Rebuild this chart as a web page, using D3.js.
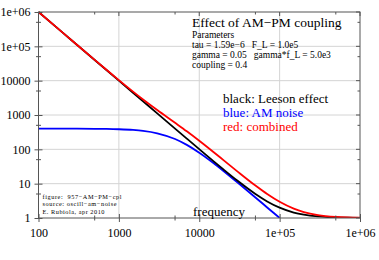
<!DOCTYPE html>
<html><head><meta charset="utf-8">
<script src="https://cdn.jsdelivr.net/npm/d3@7"></script>
<style>
html,body{margin:0;padding:0;background:#fff;}
svg text{font-family:"Liberation Serif","DejaVu Serif",serif;white-space:pre;}
</style></head>
<body><svg id="c" width="379" height="260"></svg>
<script>
// ---- data ----
const freq = [100, 200, 300, 500, 700, 1000, 1500, 2000, 3000, 5000, 7000, 10000, 15000, 20000, 30000, 50000, 70000, 100000, 150000, 200000, 300000, 500000, 700000, 1000000];
const leeson = [1000001, 250001, 111112, 40001, 20409, 10001, 4445, 2501, 1112, 401, 205.1, 101, 45.4, 26, 12.1, 5, 3.04, 2, 1.44, 1.25, 1.11, 1.04, 1.02, 1.01];
const amFreq = [100, 200, 300, 500, 700, 1000, 1500, 2000, 3000, 5000, 7000, 10000, 15000, 20000, 30000, 50000, 70000, 100000];
const amNoise = [399.8, 399.4, 398.6, 396, 393, 384.6, 367, 344.8, 294, 200, 135.1, 80, 40, 23.5, 10.8, 3.96, 2.03, 1.0];
const combined = [1000385, 250384, 111494, 40381, 20787, 10371, 4798, 2832, 1394, 593, 335, 177.8, 83.8, 48.6, 22.5, 8.8, 4.99, 2.96, 1.87, 1.49, 1.22, 1.08, 1.04, 1.02];
const xTicks = [100, 1000, 10000, 100000, 1000000];
const xTickLabels = ["100", "1000", "10000", "1e+05", "1e+06"];
const yTicks = [1, 10, 100, 1000, 10000, 100000, 1000000];
const yTickLabels = ["1", "10", "100", "1000", "10000", "1e+05", "1e+06"];
const xMinor = [500, 5000, 50000, 500000];
const yMinor = [5, 50, 500, 5000, 50000, 500000];
const titleText = "Effect of AM\u2212PM coupling";
const paramLines = ["Parameters", "tau = 1.59e\u22126   F_L = 1.0e5", "gamma = 0.05   gamma*f_L = 5.0e3", "coupling = 0.4"];
const legendLines = [["black: Leeson effect", "#000"], ["blue: AM noise", "#0000ff"], ["red: combined", "#ff0000"]];
const footLines = ["figure:  957\u2212AM\u2212PM\u2212cpl", "source: oscill\u2212am\u2212noise", "E. Rubiola, apr 2010"];

// ---- layout ----
const svg = d3.select("#c");
const L = 38.5, R = 360, T = 12, B = 218;
const x = d3.scaleLog().domain([100, 1e6]).range([L, R]);
const y = d3.scaleLog().domain([1, 1e6]).range([B, T]);

svg.append("rect").attr("width", 379).attr("height", 260).attr("fill", "#fff");

// grid
const g = svg.append("g");
g.selectAll("line.gx").data(xTicks.slice(1, -1)).join("line")
  .attr("x1", d => x(d)).attr("x2", d => x(d)).attr("y1", T).attr("y2", B)
  .attr("stroke", "#d4d4d4").attr("stroke-width", 1);
g.selectAll("line.gy").data(yTicks.slice(1, -1)).join("line")
  .attr("y1", d => y(d)).attr("y2", d => y(d)).attr("x1", L).attr("x2", R)
  .attr("stroke", "#d4d4d4").attr("stroke-width", 1);

// curves
const clip = svg.append("clipPath").attr("id", "pc").append("rect")
  .attr("x", L).attr("y", T - 1).attr("width", R - L + 1).attr("height", B - T + 1);
const line = d3.line().x(d => x(d[0])).y(d => y(d[1])).curve(d3.curveMonotoneX);
const pg = svg.append("g").attr("clip-path", "url(#pc)");
pg.append("path").datum(d3.zip(amFreq, amNoise)).attr("d", line)
  .attr("fill", "none").attr("stroke", "#0000ff").attr("stroke-width", 1.8);
pg.append("path").datum(d3.zip(freq, leeson)).attr("d", line)
  .attr("fill", "none").attr("stroke", "#000").attr("stroke-width", 1.8);
pg.append("path").datum(d3.zip(freq, combined)).attr("d", line)
  .attr("fill", "none").attr("stroke", "#ff0000").attr("stroke-width", 1.8);

// frame
const axc = "#555";
svg.append("rect").attr("x", L).attr("y", T).attr("width", R - L).attr("height", B - T)
  .attr("fill", "none").attr("stroke", axc).attr("stroke-width", 1);

// bottom axis
const bx = svg.append("g").attr("transform", `translate(0,${B})`)
  .call(d3.axisBottom(x).tickValues(xTicks).tickFormat((d, i) => xTickLabels[i]).tickSize(4).tickPadding(6));
bx.select(".domain").remove();
bx.selectAll(".tick line").attr("y1", -4).attr("stroke", axc);
bx.selectAll(".tick text").attr("font-size", 12).attr("fill", "#000").attr("font-family", "Liberation Serif");
svg.append("g").selectAll("line").data(xMinor).join("line")
  .attr("x1", d => x(d)).attr("x2", d => x(d)).attr("y1", B - 2.5).attr("y2", B + 2.5).attr("stroke", axc);

// left axis
const ly = svg.append("g").attr("transform", `translate(${L},0)`)
  .call(d3.axisLeft(y).tickValues(yTicks).tickFormat((d, i) => yTickLabels[i]).tickSize(4).tickPadding(4));
ly.select(".domain").remove();
ly.selectAll(".tick line").attr("x1", 4).attr("stroke", axc);
ly.selectAll(".tick text").attr("font-size", 12).attr("fill", "#000").attr("font-family", "Liberation Serif");
svg.append("g").selectAll("line").data(yMinor).join("line")
  .attr("y1", d => y(d)).attr("y2", d => y(d)).attr("x1", L - 2.5).attr("x2", L + 2.5).attr("stroke", axc);

// top axis (inward ticks)
svg.append("g").selectAll("line").data(xTicks).join("line")
  .attr("x1", d => x(d)).attr("x2", d => x(d)).attr("y1", T).attr("y2", T + 4).attr("stroke", axc);
svg.append("g").selectAll("line").data(xMinor).join("line")
  .attr("x1", d => x(d)).attr("x2", d => x(d)).attr("y1", T).attr("y2", T + 2.5).attr("stroke", axc);
// right axis (inward ticks)
svg.append("g").selectAll("line").data(yTicks).join("line")
  .attr("y1", d => y(d)).attr("y2", d => y(d)).attr("x1", R - 4).attr("x2", R).attr("stroke", axc);
svg.append("g").selectAll("line").data(yMinor).join("line")
  .attr("y1", d => y(d)).attr("y2", d => y(d)).attr("x1", R - 2.5).attr("x2", R).attr("stroke", axc);

// title and parameters
svg.append("text").attr("x", 192).attr("y", 26.5).attr("font-size", 13.5).text(titleText);
svg.append("g").selectAll("text").data(paramLines).join("text")
  .attr("x", 192).attr("y", (d, i) => 37.5 + i * 10.3).attr("font-size", 9.5).text(d => d);

// legend
svg.append("g").selectAll("text").data(legendLines).join("text")
  .attr("x", 223).attr("y", (d, i) => 103.3 + i * 13.7).attr("font-size", 13)
  .attr("fill", d => d[1]).text(d => d[0]);

// footnote
svg.append("g").selectAll("text").data(footLines).join("text")
  .attr("x", 42.5).attr("y", (d, i) => 199 + i * 7.3).attr("font-size", 6.3)
  .attr("textLength", (d, i) => [79, 74, 62][i]).attr("lengthAdjust", "spacing").text(d => d);

// axis title
svg.append("text").attr("x", 193).attr("y", 216).attr("font-size", 13).text("frequency");
</script></body></html>
